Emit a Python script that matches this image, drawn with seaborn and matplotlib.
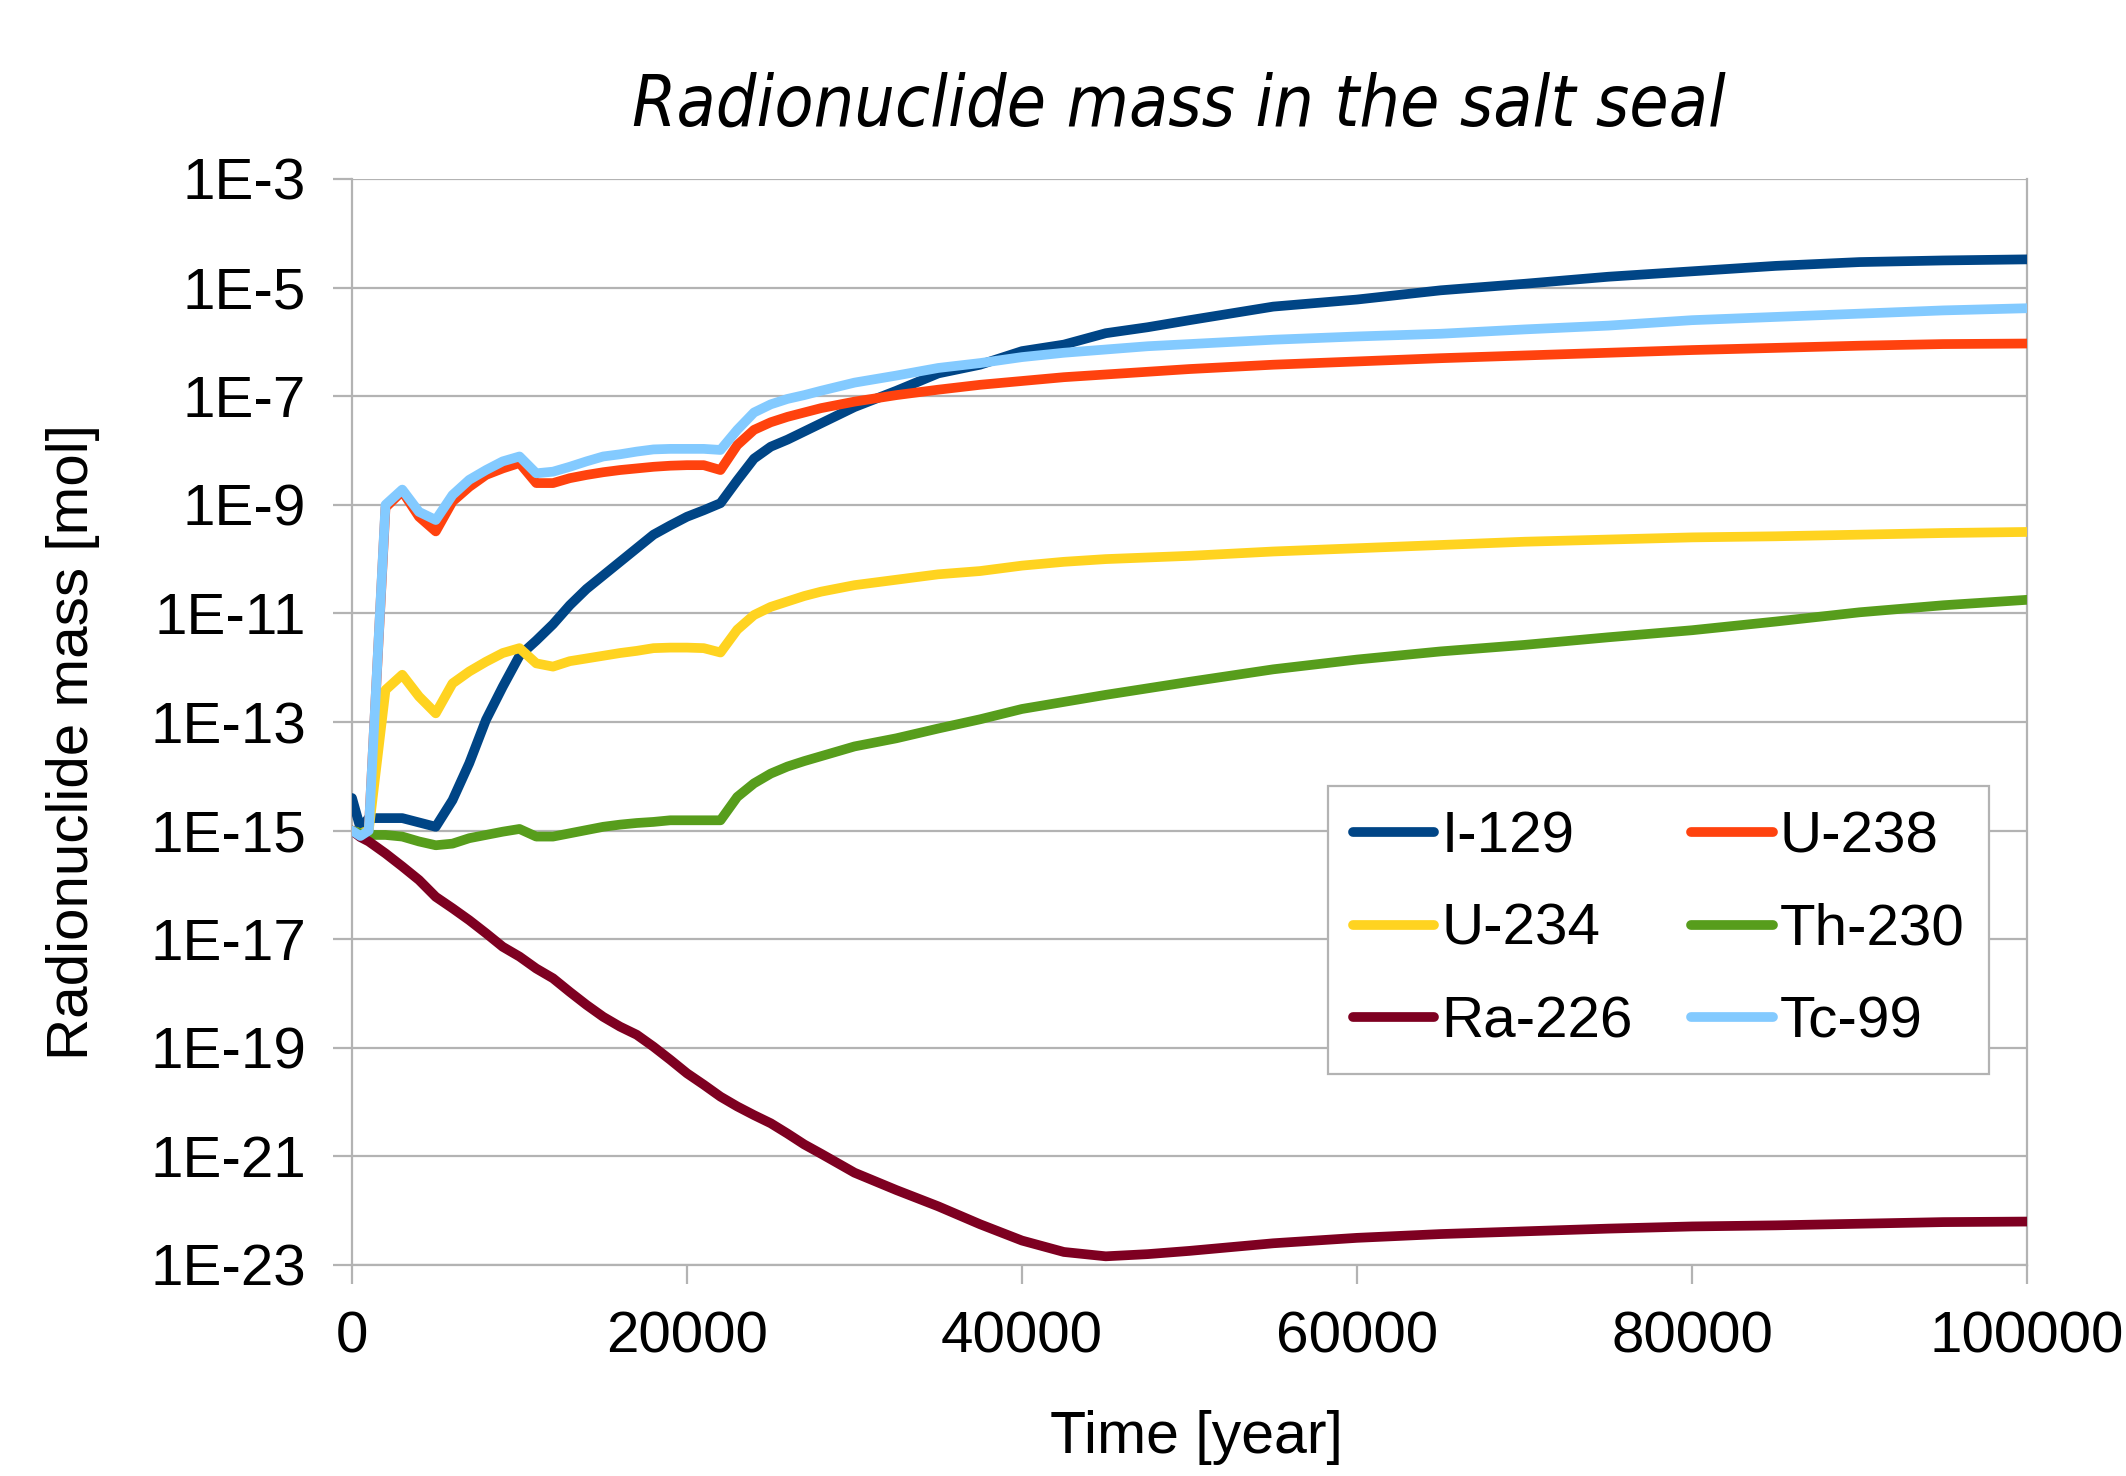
import numpy as np
import pandas as pd
import matplotlib
matplotlib.use("Agg")
import matplotlib.pyplot as plt
from matplotlib import font_manager
from matplotlib.lines import Line2D
from matplotlib.ticker import FixedLocator, NullLocator
import seaborn as sns

# ---------------- data (log10 of mass in mol) ----------------
time_years = [0, 500, 1000, 2000, 3000, 4000, 5000, 6000, 7000, 8000, 9000, 10000,
              11000, 12000, 13000, 14000, 15000, 16000, 17000, 18000, 19000, 20000,
              21000, 22000, 23000, 24000, 25000, 26000, 27000, 28000, 30000, 32500,
              35000, 37500, 40000, 42500, 45000, 47500, 50000, 55000, 60000, 65000,
              70000, 75000, 80000, 85000, 90000, 95000, 100000]

log_i129 = [-14.4, -14.95, -14.77, -14.77, -14.77, -14.85, -14.93, -14.44, -13.76, -12.96,
            -12.35, -11.78, -11.5, -11.2, -10.85, -10.55, -10.3, -10.05, -9.8, -9.55,
            -9.38, -9.22, -9.1, -8.97, -8.55, -8.15, -7.93, -7.8, -7.65, -7.5,
            -7.2, -6.9, -6.58, -6.42, -6.17, -6.05, -5.84, -5.73, -5.6, -5.35,
            -5.22, -5.05, -4.93, -4.8, -4.7, -4.6, -4.53, -4.5, -4.48]

log_u238 = [-15.0, -15.1, -15.0, -9.05, -8.75, -9.22, -9.49, -8.94, -8.67, -8.45,
            -8.33, -8.23, -8.6, -8.6, -8.51, -8.45, -8.4, -8.36, -8.33, -8.3,
            -8.28, -8.27, -8.27, -8.36, -7.9, -7.62, -7.48, -7.38, -7.3, -7.22,
            -7.1, -6.98, -6.88, -6.79, -6.72, -6.65, -6.6, -6.55, -6.5, -6.42,
            -6.36, -6.3, -6.25, -6.2, -6.15, -6.11, -6.07, -6.04, -6.03]

log_u234 = [-15.0, -15.05, -15.0, -12.41, -12.13, -12.53, -12.84, -12.29, -12.07, -11.89,
            -11.73, -11.64, -11.92, -11.98, -11.88, -11.83, -11.78, -11.73, -11.69, -11.64,
            -11.63, -11.63, -11.64, -11.72, -11.3, -11.03, -10.88, -10.78, -10.68, -10.6,
            -10.48, -10.38, -10.28, -10.22, -10.12, -10.05, -10.0, -9.97, -9.94, -9.86,
            -9.8, -9.74, -9.68, -9.64, -9.6, -9.58, -9.55, -9.52, -9.5]

log_th230 = [-15.0, -15.05, -15.08, -15.08, -15.11, -15.2, -15.27, -15.24, -15.14, -15.08,
             -15.02, -14.97, -15.11, -15.11, -15.05, -14.99, -14.93, -14.89, -14.86, -14.84,
             -14.81, -14.81, -14.81, -14.81, -14.38, -14.13, -13.95, -13.82, -13.72, -13.63,
             -13.45, -13.3, -13.12, -12.95, -12.76, -12.63, -12.5, -12.38, -12.26, -12.03,
             -11.85, -11.7, -11.58, -11.44, -11.31, -11.15, -10.98, -10.85, -10.75]

log_ra226 = [-15.0, -15.12, -15.2, -15.42, -15.66, -15.91, -16.22, -16.43, -16.65, -16.89,
             -17.14, -17.32, -17.54, -17.72, -17.97, -18.21, -18.43, -18.61, -18.76, -18.98,
             -19.22, -19.47, -19.68, -19.9, -20.08, -20.24, -20.39, -20.58, -20.78, -20.95,
             -21.3, -21.62, -21.92, -22.25, -22.55, -22.76, -22.84, -22.8, -22.74, -22.6,
             -22.5, -22.43, -22.38, -22.33, -22.29, -22.27, -22.24, -22.21, -22.2]

log_tc99 = [-15.0, -15.1, -15.0, -9.0, -8.72, -9.13, -9.28, -8.82, -8.54, -8.36,
            -8.2, -8.11, -8.42, -8.39, -8.3, -8.2, -8.11, -8.07, -8.02, -7.98,
            -7.97, -7.97, -7.97, -7.99, -7.62, -7.3, -7.15, -7.05, -6.98, -6.9,
            -6.75, -6.62, -6.48, -6.39, -6.28, -6.2, -6.14, -6.08, -6.04, -5.96,
            -5.9, -5.85, -5.77, -5.7, -5.6, -5.54, -5.48, -5.42, -5.38]

series_names = ["I-129", "U-238", "U-234", "Th-230", "Ra-226", "Tc-99"]
series_logs = [log_i129, log_u238, log_u234, log_th230, log_ra226, log_tc99]
series_colors = ["#004586", "#ff420e", "#ffd320", "#579d1c", "#7e0021", "#83caff"]

y_tick_exponents = [-3, -5, -7, -9, -11, -13, -15, -17, -19, -21, -23]
x_ticks = [0, 20000, 40000, 60000, 80000, 100000]

title_text = "Radionuclide mass in the salt seal"
x_label = "Time [year]"
y_label = "Radionuclide mass [mol]"

# ---------------- build long table ----------------
frames = []
for name, logs in zip(series_names, series_logs):
    frames.append(pd.DataFrame({"time": time_years,
                                "mass": np.power(10.0, np.array(logs, dtype=float)),
                                "nuclide": name}))
df = pd.concat(frames, ignore_index=True)
palette = dict(zip(series_names, series_colors))

# ---------------- style ----------------
sns.set_theme(style="white")
plt.rcParams["font.family"] = ["Liberation Sans", "DejaVu Sans"]
for key in ["text.color", "axes.labelcolor", "xtick.labelcolor", "ytick.labelcolor"]:
    plt.rcParams[key] = "black"


def pick_condensed_italic():
    prefs = ["NotoSans-CondensedItalic", "OpenSans_Condensed-Italic",
             "OpenSans-CondensedItalic", "DejaVuSansCondensed-Oblique",
             "LiberationSansNarrow-Italic", "NotoSans-SemiCondensedItalic"]
    files = [f.fname for f in font_manager.fontManager.ttflist]
    for p in prefs:
        for f in files:
            if p.lower() in f.lower().replace(" ", ""):
                return f
    for f in files:
        low = f.lower()
        if ("condensed" in low or "narrow" in low) and ("italic" in low or "oblique" in low) \
                and "extra" not in low and "bold" not in low and "light" not in low \
                and "black" not in low and "medium" not in low and "thin" not in low:
            return f
    return None


W, H = 2126, 1476
fig = plt.figure(figsize=(W / 100, H / 100), dpi=100)
fig.patch.set_facecolor("white")
ax = fig.add_axes([352 / W, 1 - 1265 / H, (2027 - 352) / W, (1265 - 179) / H])

grid_col = "#b3b3b3"
lw = 7.0

for name in series_names:
    sub = df[df["nuclide"] == name]
    sns.lineplot(data=sub, x="time", y="mass", color=palette[name], linewidth=lw,
                 estimator=None, sort=False, ax=ax, legend=False,
                 solid_joinstyle="round", solid_capstyle="round", zorder=3)

ax.set_yscale("log")
ax.set_ylim(1e-23, 1e-3)
ax.set_xlim(0, 100000)
ax.yaxis.set_major_locator(FixedLocator([10.0 ** e for e in y_tick_exponents]))
ax.yaxis.set_minor_locator(NullLocator())
ax.set_yticklabels([f"1E{e}" for e in y_tick_exponents])
ax.xaxis.set_major_locator(FixedLocator(x_ticks))
ax.set_xticklabels([str(v) for v in x_ticks])

ax.grid(axis="y", color=grid_col, linewidth=1.6, zorder=0)
ax.grid(axis="x", visible=False)
for side in ["left", "right", "bottom", "top"]:
    ax.spines[side].set_color(grid_col)
    ax.spines[side].set_linewidth(1.6)
ax.spines["top"].set_visible(False)

ax.tick_params(axis="both", which="major", direction="out", length=14, width=1.6,
               color=grid_col, labelsize=42, labelcolor="black", pad=19)
ax.tick_params(axis="y", left=True, right=False)
ax.tick_params(axis="x", bottom=True, top=False)

ax.set_xlabel(x_label, fontsize=42.5, color="black")
ax.set_ylabel(y_label, fontsize=42, color="black")
ax.xaxis.set_label_coords((1196 - 352) / (2027 - 352), -(1410 - 1265) / (1265 - 179))
ax.yaxis.set_label_coords(-(352 - 100) / (2027 - 352), 1 - (742 - 179) / (1265 - 179))

# title: condensed italic, sized to span the same width as the reference
tfile = pick_condensed_italic()
if tfile is not None:
    tprops = dict(fontproperties=font_manager.FontProperties(fname=tfile, size=60))
else:
    tprops = dict(fontsize=60, style="italic", family=["Liberation Sans", "DejaVu Sans"])
title = fig.text(1179 / W, 1 - 126 / H, title_text, ha="center", va="baseline",
                 color="black", **tprops)
renderer = fig.canvas.get_renderer()
target_w = 1094.0
for _ in range(3):
    w = title.get_window_extent(renderer=renderer).width
    title.set_fontsize(title.get_fontsize() * target_w / w)

# legend
order = [0, 2, 4, 1, 3, 5]
handles = [Line2D([0], [0], color=series_colors[i], linewidth=lw,
                  solid_capstyle="round") for i in order]
labels = [series_names[i] for i in order]
leg = ax.legend(handles, labels, ncol=2, loc="upper left",
                bbox_to_anchor=(1328 / W, 1 - 786 / H), bbox_transform=fig.transFigure,
                fontsize=42, frameon=True, fancybox=False, framealpha=1,
                edgecolor=grid_col, handlelength=1.4, handletextpad=0.12,
                columnspacing=1.0, labelspacing=0.66, borderpad=0.42,
                borderaxespad=0)
leg.get_frame().set_linewidth(1.6)
for t in leg.get_texts():
    t.set_color("black")

fig.savefig("out.png", dpi=100, facecolor="white")
